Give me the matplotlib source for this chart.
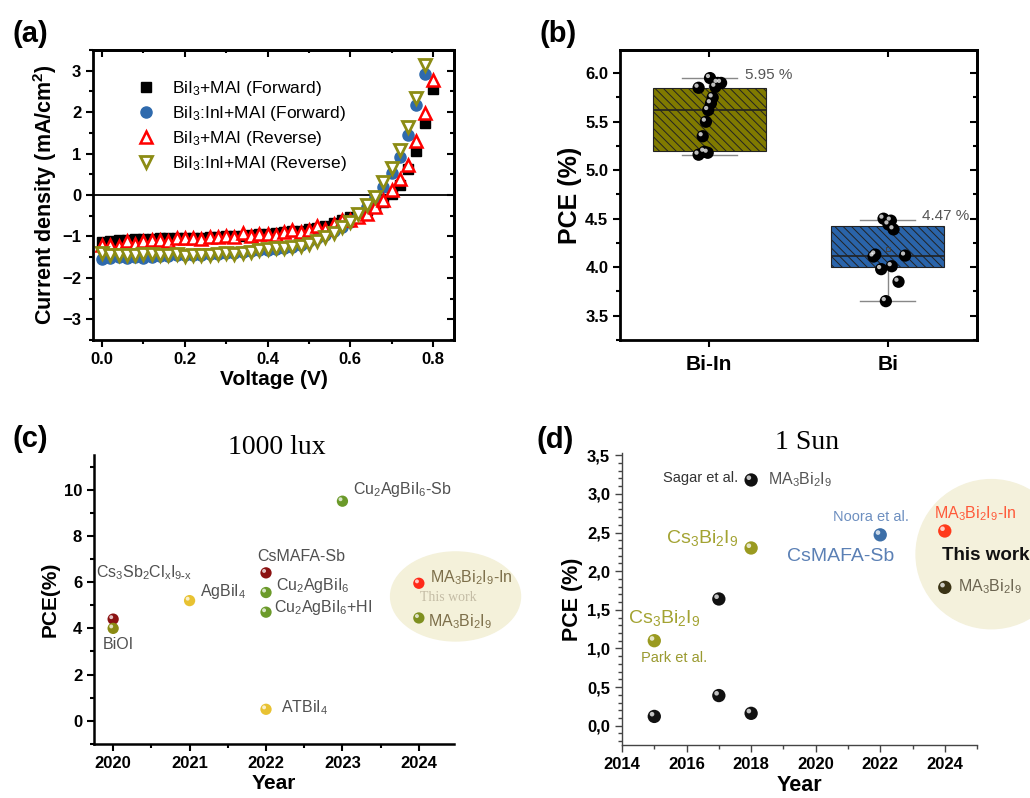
import numpy as np
import matplotlib
matplotlib.use('Agg')
import matplotlib.pyplot as plt
from matplotlib.patches import Ellipse
from matplotlib.ticker import MultipleLocator, FuncFormatter
from matplotlib.transforms import offset_copy

plt.rcParams['font.family'] = ['Liberation Sans', 'DejaVu Sans']
plt.rcParams['font.weight'] = 'bold'
plt.rcParams['axes.labelweight'] = 'bold'
plt.rcParams['mathtext.fontset'] = 'custom'
plt.rcParams['mathtext.rm'] = 'Liberation Sans'
plt.rcParams['mathtext.bf'] = 'Liberation Sans:bold'
plt.rcParams['mathtext.default'] = 'regular'
plt.rcParams['hatch.linewidth'] = 0.7

# ---- (a) J-V curves ----
V = [0.00, 0.02, 0.04, 0.06, 0.08, 0.10, 0.12, 0.14, 0.16, 0.18,
     0.20, 0.22, 0.24, 0.26, 0.28, 0.30, 0.32, 0.34, 0.36, 0.38,
     0.40, 0.42, 0.44, 0.46, 0.48, 0.50, 0.52, 0.54, 0.56, 0.58,
     0.60, 0.62, 0.64, 0.66, 0.68, 0.70, 0.72, 0.74, 0.76, 0.78, 0.80]
J_bi_fwd = [-1.14, -1.12, -1.08, -1.08, -1.07, -1.06, -1.06, -1.05, -1.05, -1.04,
            -1.04, -1.03, -1.03, -1.02, -1.01, -1.00, -0.99, -0.98, -0.97, -0.95,
            -0.94, -0.92, -0.90, -0.88, -0.86, -0.83, -0.79, -0.74, -0.68, -0.60,
            -0.54, -0.46, -0.37, -0.27, -0.16, 0.03, 0.25, 0.62, 1.05, 1.74, 2.56]
J_biin_fwd = [-1.54, -1.52, -1.50, -1.53, -1.50, -1.53, -1.50, -1.48, -1.47, -1.46,
              -1.45, -1.44, -1.44, -1.43, -1.42, -1.40, -1.39, -1.38, -1.36, -1.34,
              -1.32, -1.30, -1.28, -1.25, -1.20, -1.12, -1.05, -0.97, -0.88, -0.77,
              -0.65, -0.50, -0.30, -0.05, 0.19, 0.52, 0.92, 1.44, 2.17, 2.93, np.nan]
J_bi_rev = [-1.22, -1.20, -1.24, -1.10, -1.18, -1.10, -1.09, -1.09, -1.12, -1.05,
            -1.05, -1.05, -1.07, -1.01, -1.01, -0.99, -1.01, -0.93, -0.99, -0.95,
            -0.95, -0.97, -0.90, -0.85, -0.89, -0.85, -0.76, -0.81, -0.71, -0.61,
            -0.60, -0.53, -0.45, -0.30, -0.13, 0.11, 0.38, 0.72, 1.30, 1.98, 2.77]
J_biin_rev = [-1.40, -1.45, -1.46, -1.44, -1.46, -1.42, -1.43, -1.45, -1.44, -1.43,
              -1.47, -1.45, -1.44, -1.45, -1.43, -1.40, -1.42, -1.40, -1.37, -1.33,
              -1.30, -1.29, -1.27, -1.26, -1.23, -1.18, -1.12, -1.02, -0.92, -0.78,
              -0.65, -0.45, -0.25, -0.05, 0.31, 0.64, 1.08, 1.64, 2.33, 3.13, np.nan]
legend_a = ['BiI$_3$+MAI (Forward)', 'BiI$_3$:InI+MAI (Forward)',
            'BiI$_3$+MAI (Reverse)', 'BiI$_3$:InI+MAI (Reverse)']

# ---- (b) box chart ----
groups_b = ['Bi-In', 'Bi']
pce_biin = [5.95, 5.85, 5.90, 5.90, 5.86, 5.75, 5.69, 5.62, 5.50, 5.35, 5.16, 5.19, 5.18]
jit_biin = [0.004, -0.06, 0.047, 0.066, 0.034, 0.019, 0.009, -0.006, -0.019, -0.037, -0.06, -0.028, -0.009]
pce_bi = [4.50, 4.48, 4.44, 4.39, 4.11, 4.13, 4.12, 3.98, 4.01, 3.85, 3.65]
jit_bi = [-0.024, 0.017, 0.004, 0.032, -0.08, -0.07, 0.097, -0.037, 0.022, 0.06, -0.011]
box_q1 = [5.20, 4.00]
box_q3 = [5.85, 4.43]
box_med = [5.62, 4.12]
whis_lo = [5.16, 3.65]
whis_hi = [5.95, 4.49]
bi_mean = 4.19
max_labels = ['5.95 %', '4.47 %']

# ---- (c) 1000 lux ----
year_c = [2020, 2020, 2021, 2022, 2022, 2022, 2022, 2023, 2024, 2024]
pce_c = [4.4, 4.0, 5.2, 6.4, 5.55, 4.7, 0.5, 9.5, 5.95, 4.45]
names_c = ['Cs$_3$Sb$_2$Cl$_x$I$_{9\\text{-}x}$', 'BiOI', 'AgBiI$_4$', 'CsMAFA-Sb',
           'Cu$_2$AgBiI$_6$', 'Cu$_2$AgBiI$_6$+HI', 'ATBiI$_4$', 'Cu$_2$AgBiI$_6$-Sb',
           'MA$_3$Bi$_2$I$_9$-In', 'MA$_3$Bi$_2$I$_9$']

# ---- (d) 1 Sun ----
year_d = [2015, 2015, 2017, 2017, 2018, 2018, 2018, 2022, 2024, 2024]
pce_d = [0.12, 1.10, 1.64, 0.39, 3.18, 2.30, 0.16, 2.47, 2.52, 1.79]

# styles / layout
col_c = ['#8b1212', '#8a8a12', '#e8c232', '#8b1212', '#6b9a2a', '#6b9a2a',
         '#e8c232', '#6b9a2a', '#ff2a1a', '#7f9020']
lab_c_pos = [(2019.78, 6.4, 'left'), (2020.07, 3.3, 'center'), (2021.14, 5.6, 'left'),
             (2021.88, 7.1, 'left'), (2022.13, 5.85, 'left'), (2022.1, 4.9, 'left'),
             (2022.2, 0.55, 'left'), (2023.14, 10.0, 'left'), (2024.15, 6.2, 'left'),
             (2024.12, 4.3, 'left')]
lab_c_col = ['#505050'] * 8 + ['#7d6f4a', '#7d6f4a']
col_d = ['#111111', '#9a9a20', '#111111', '#111111', '#111111', '#9a9a20',
         '#111111', '#3d6fa8', '#ff3a1a', '#3a3315']


def spheres(ax, x, y, colors, size):
    ax.scatter(x, y, s=size, c=colors, edgecolors='none', zorder=4, clip_on=False)
    hl = offset_copy(ax.transData, fig=ax.figure, x=-size ** 0.5 * 0.17,
                     y=size ** 0.5 * 0.17, units='points')
    ax.scatter(x, y, s=size * 0.12, c='white', alpha=0.75, edgecolors='none',
               zorder=5, transform=hl, clip_on=False)


def bold_ticks(ax):
    for lbl in ax.get_xticklabels() + ax.get_yticklabels():
        lbl.set_fontweight('bold')


def frame_style(ax, xmaj, xmin, ymaj, ymin):
    for sp in ax.spines.values():
        sp.set_linewidth(2)
    ax.tick_params(which='both', direction='out', width=1.5, labelsize=12)
    ax.tick_params(which='major', length=5)
    ax.tick_params(which='minor', length=3)
    ax.xaxis.set_minor_locator(MultipleLocator(xmin))
    ax.yaxis.set_minor_locator(MultipleLocator(ymin))
    sx = ax.secondary_xaxis('top')
    sx.set_xticks(xmaj)
    sx.xaxis.set_minor_locator(MultipleLocator(xmin))
    sx.tick_params(which='both', direction='in', labeltop=False, width=1.5)
    sx.tick_params(which='major', length=5)
    sy = ax.secondary_yaxis('right')
    sy.set_yticks(ymaj)
    sy.yaxis.set_minor_locator(MultipleLocator(ymin))
    sy.tick_params(which='both', direction='in', labelright=False, width=1.5)
    sy.tick_params(which='major', length=5)
    sy.tick_params(which='minor', length=3)
    for s in (sx, sy):
        for sp in s.spines.values():
            sp.set_linewidth(2)


fig = plt.figure(figsize=(10.30, 7.98), dpi=100)

# (a)
ax = fig.add_axes([0.0903, 0.574, 0.3505, 0.3634])
ax.plot(V, J_bi_fwd, 's', color='black', ms=7, label=legend_a[0])
ax.plot(V, J_biin_fwd, 'o', color='#2f6aad', ms=8, label=legend_a[1])
ax.plot(V, J_bi_rev, '^', mfc='white', mec='#ff0000', mew=1.8, ms=8, label=legend_a[2])
ax.plot(V, J_biin_rev, 'v', mfc='white', mec='#8c8c14', mew=2, ms=8, label=legend_a[3])
ax.axhline(0, color='black', lw=1.3, zorder=0)
ax.set_xlim(-0.022, 0.851)
ax.set_ylim(-3.5, 3.5)
ax.set_xticks([0.0, 0.2, 0.4, 0.6, 0.8])
ax.set_yticks([-3, -2, -1, 0, 1, 2, 3])
frame_style(ax, [0.0, 0.2, 0.4, 0.6, 0.8], 0.1, [-3, -2, -1, 0, 1, 2, 3], 0.5)
bold_ticks(ax)
ax.set_xlabel('Voltage (V)', fontsize=15, labelpad=2)
ax.set_ylabel('Current density (mA/cm$^2$)', fontsize=15.5, labelpad=2)
ax.legend(loc='upper left', bbox_to_anchor=(0.08, 0.955), frameon=False,
          prop={'weight': 'normal', 'size': 12.5}, handlelength=1.0,
          handletextpad=1.0, labelspacing=0.35)

# (b)
ax = fig.add_axes([0.602, 0.574, 0.3466, 0.3634])
stats = [dict(med=box_med[i], q1=box_q1[i], q3=box_q3[i], whislo=whis_lo[i],
              whishi=whis_hi[i], label=groups_b[i]) for i in range(2)]
bp = ax.bxp(stats, positions=[1, 2], widths=0.635, patch_artist=True,
            showfliers=False, capwidths=0.31,
            boxprops=dict(linewidth=0.8, edgecolor='#222222', hatch='\\\\\\\\'),
            whiskerprops=dict(color='#888888', lw=1),
            capprops=dict(color='#888888', lw=1),
            medianprops=dict(color='#222222', lw=1.2))
for patch, fc in zip(bp['boxes'], ['#807a00', '#2a64aa']):
    patch.set_facecolor(fc)
ax.plot(2, bi_mean, 's', mfc='none', mec='#444444', ms=3, mew=0.7, zorder=3)
spheres(ax, [1 + j for j in jit_biin], pce_biin, 'black', 78)
spheres(ax, [2 + j for j in jit_bi], pce_bi, 'black', 78)
ax.text(1.2, 5.98, max_labels[0], fontsize=11, fontweight='normal',
        color='#555555', va='center')
ax.text(2.19, 4.53, max_labels[1], fontsize=11, fontweight='normal',
        color='#555555', va='center')
ax.set_xlim(0.5, 2.5)
ax.set_ylim(3.25, 6.24)
ax.set_xticks([1, 2])
ax.set_xticklabels(groups_b)
ax.set_yticks([3.5, 4.0, 4.5, 5.0, 5.5, 6.0])
frame_style(ax, [1, 2], 1.0, [3.5, 4.0, 4.5, 5.0, 5.5, 6.0], 0.25)
ax.xaxis.set_minor_locator(MultipleLocator(10))
ax.tick_params(axis='x', labelsize=15, pad=6)
bold_ticks(ax)
ax.set_ylabel('PCE (%)', fontsize=18, labelpad=2)

# (c)
ax = fig.add_axes([0.0913, 0.0677, 0.3495, 0.3622])
ax.add_patch(Ellipse((2024.48, 5.38), 1.70, 3.85, color='#f4f1da', zorder=1, clip_on=False))
spheres(ax, year_c, pce_c, col_c, 66)
for name, (tx, ty, ha), tc in zip(names_c, lab_c_pos, lab_c_col):
    ax.text(tx, ty, name, fontsize=11.5, fontweight='normal', color=tc, ha=ha,
            va='center', zorder=6)
ax.text(2024.02, 5.35, 'This work', fontsize=10, family='Liberation Serif',
        fontweight='normal', color='#c4bca5', va='center', zorder=6)
ax.set_xlim(2019.75, 2024.46)
ax.set_ylim(-1, 11.5)
ax.set_xticks([2020, 2021, 2022, 2023, 2024])
ax.set_yticks([0, 2, 4, 6, 8, 10])
ax.xaxis.set_minor_locator(MultipleLocator(0.5))
ax.yaxis.set_minor_locator(MultipleLocator(1))
ax.spines[['top', 'right']].set_visible(False)
ax.spines[['left', 'bottom']].set_linewidth(1.8)
ax.tick_params(which='both', direction='out', width=1.5, labelsize=12)
ax.tick_params(which='major', length=5)
ax.tick_params(which='minor', length=3)
bold_ticks(ax)
ax.set_xlabel('Year', fontsize=15, labelpad=2)
ax.set_ylabel('PCE(%)', fontsize=15, labelpad=3)

# (d)
ax = fig.add_axes([0.6039, 0.0664, 0.3447, 0.366])
ax.add_patch(Ellipse((2025.44, 2.22), 4.66, 1.93, color='#f4f1dc', zorder=1, clip_on=False))
spheres(ax, year_d, pce_d, col_d, 92)
ax.text(2017.6, 3.2, 'Sagar et al.', fontsize=10.5, fontweight='normal', color='#333333', ha='right', va='center')
ax.text(2018.53, 3.18, 'MA$_3$Bi$_2$I$_9$', fontsize=11.5, fontweight='normal', color='#555555', va='center')
ax.text(2015.37, 2.43, 'Cs$_3$Bi$_2$I$_9$', fontsize=14, fontweight='normal', color='#a3a332', va='center')
ax.text(2020.55, 2.70, 'Noora et al.', fontsize=10.5, fontweight='normal', color='#6d8fc0', va='center')
ax.text(2019.1, 2.19, 'CsMAFA-Sb', fontsize=14, fontweight='normal', color='#5b80b5', va='center')
ax.text(2014.2, 1.39, 'Cs$_3$Bi$_2$I$_9$', fontsize=14, fontweight='normal', color='#a3a332', va='center')
ax.text(2014.6, 0.88, 'Park et al.', fontsize=10.5, fontweight='normal', color='#9a9a30', va='center')
ax.text(2023.66, 2.75, 'MA$_3$Bi$_2$I$_9$-In', fontsize=11.5, fontweight='normal', color='#ff5a3a', va='center')
ax.text(2023.9, 2.2, 'This work', fontsize=13.5, fontweight='bold', color='#111111', va='center')
ax.text(2024.4, 1.80, 'MA$_3$Bi$_2$I$_9$', fontsize=11.5, fontweight='normal', color='#6b6450', va='center')
ax.set_xlim(2014, 2025)
ax.set_ylim(-0.25, 3.53)
ax.set_xticks([2014, 2016, 2018, 2020, 2022, 2024])
ax.set_yticks([0.0, 0.5, 1.0, 1.5, 2.0, 2.5, 3.0, 3.5])
ax.yaxis.set_major_formatter(FuncFormatter(lambda v, p: f'{v:.1f}'.replace('.', ',')))
ax.xaxis.set_minor_locator(MultipleLocator(1))
ax.yaxis.set_minor_locator(MultipleLocator(0.1))
ax.spines[['top', 'right']].set_visible(False)
ax.spines[['left', 'bottom']].set_linewidth(1.0)
ax.spines[['left', 'bottom']].set_color('#444444')
ax.tick_params(which='both', direction='out', width=1.0, color='#444444', labelsize=12)
ax.tick_params(which='major', length=5)
ax.tick_params(which='minor', length=3)
bold_ticks(ax)
ax.set_xlabel('Year', fontsize=15.5, labelpad=2)
ax.set_ylabel('PCE (%)', fontsize=15.5, labelpad=3)

# panel labels and titles
fig.text(0.012, 0.975, '(a)', fontsize=21, va='top')
fig.text(0.524, 0.975, '(b)', fontsize=21, va='top')
fig.text(0.012, 0.468, '(c)', fontsize=21, va='top')
fig.text(0.521, 0.466, '(d)', fontsize=21, va='top')
fig.text(0.269, 0.4398, '1000 lux', fontsize=20, family='Liberation Serif',
         fontweight='normal', ha='center', va='center')
fig.text(0.7835, 0.446, '1 Sun', fontsize=20, family='Liberation Serif',
         fontweight='normal', ha='center', va='center')

fig.savefig('out.png', dpi=100)
